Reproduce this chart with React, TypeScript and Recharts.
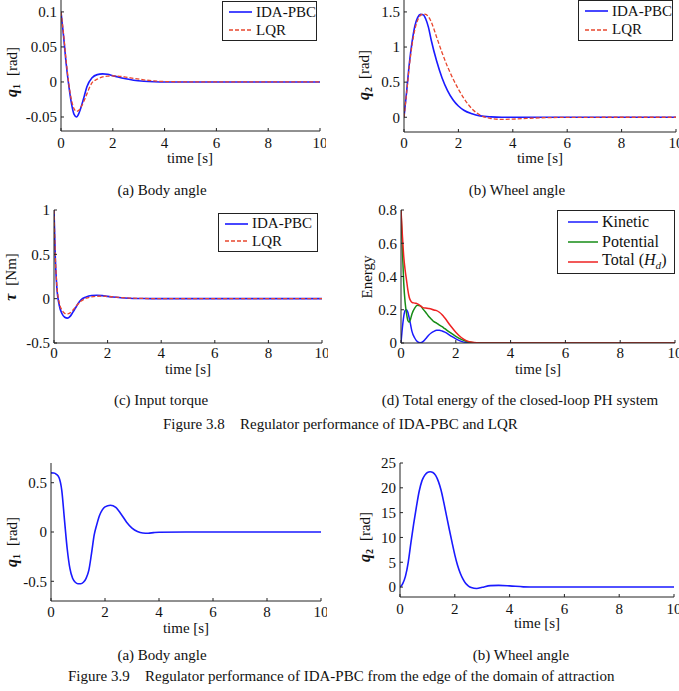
import React from 'react';
import { LineChart, Line, XAxis, YAxis, Legend } from 'recharts';

const FONT = '"Liberation Serif", "Times New Roman", serif';
const AXIS_COLOR = '#222';
const BLUE = '#1a1aff';
const LQR_RED = '#e8472e';
const GREEN = '#168c16';
const RED = '#ee2222';

// ---------- Figure 3.8 data ----------
const tStates = [0, 0.1, 0.2, 0.3, 0.4, 0.5, 0.6, 0.7, 0.8, 0.9, 1.0, 1.2, 1.4, 1.6, 1.8, 2.0, 2.2, 2.5, 2.8, 3.2, 3.6, 4, 5, 6, 8, 10];
const q1Ida = [0.1, 0.065, 0.026, -0.005, -0.03, -0.046, -0.05, -0.044, -0.033, -0.02, -0.007, 0.006, 0.0105, 0.0115, 0.011, 0.009, 0.007, 0.0045, 0.0025, 0.001, 0.0003, 0, 0, 0, 0, 0];
const q1Lqr = [0.1, 0.068, 0.03, -0.002, -0.025, -0.038, -0.042, -0.04, -0.034, -0.026, -0.017, -0.001, 0.004, 0.0072, 0.0083, 0.0086, 0.0083, 0.007, 0.0052, 0.003, 0.0015, 0.0006, 0.0001, 0, 0, 0];
const q2Ida = [0, 0.38, 0.78, 1.08, 1.3, 1.42, 1.465, 1.46, 1.4, 1.28, 1.1, 0.8, 0.56, 0.38, 0.25, 0.16, 0.1, 0.05, 0.02, 0.005, 0, 0, 0, 0, 0, 0];
const q2Lqr = [0, 0.36, 0.74, 1.04, 1.25, 1.38, 1.45, 1.47, 1.465, 1.43, 1.36, 1.14, 0.92, 0.72, 0.55, 0.4, 0.27, 0.12, 0.03, -0.018, -0.03, -0.026, -0.008, -0.002, 0, 0];

const tTorque = [0, 0.05, 0.1, 0.2, 0.3, 0.4, 0.5, 0.6, 0.7, 0.8, 0.9, 1.0, 1.2, 1.4, 1.6, 1.8, 2.0, 2.2, 2.5, 2.8, 3.2, 3.6, 4, 6, 8, 10];
const tauIda = [1.0, 0.45, 0.15, -0.08, -0.17, -0.21, -0.22, -0.2, -0.155, -0.105, -0.055, -0.015, 0.02, 0.035, 0.038, 0.034, 0.026, 0.018, 0.01, 0.005, 0.002, 0.001, 0, 0, 0, 0];
const tauLqr = [1.0, 0.47, 0.18, -0.05, -0.13, -0.165, -0.172, -0.16, -0.13, -0.095, -0.06, -0.03, 0.005, 0.02, 0.027, 0.028, 0.025, 0.02, 0.013, 0.007, 0.003, 0.0012, 0.0004, 0, 0, 0];

const tEnergy = [0, 0.05, 0.1, 0.15, 0.2, 0.25, 0.3, 0.35, 0.4, 0.5, 0.6, 0.7, 0.8, 0.9, 1.0, 1.1, 1.2, 1.3, 1.4, 1.5, 1.6, 1.8, 2.0, 2.2, 2.4, 2.6, 2.8, 3, 4, 6, 8, 10];
const kinetic = [0, 0.09, 0.16, 0.195, 0.2, 0.185, 0.15, 0.11, 0.07, 0.03, 0.008, 0.002, 0.008, 0.025, 0.045, 0.06, 0.07, 0.076, 0.076, 0.072, 0.065, 0.045, 0.025, 0.01, 0.003, 0.001, 0, 0, 0, 0, 0, 0];
const potential = [0.8, 0.56, 0.36, 0.245, 0.18, 0.135, 0.125, 0.145, 0.175, 0.21, 0.227, 0.223, 0.205, 0.185, 0.163, 0.145, 0.128, 0.12, 0.108, 0.098, 0.086, 0.062, 0.04, 0.022, 0.009, 0.003, 0.001, 0, 0, 0, 0, 0];
const totalHd = [0.8, 0.65, 0.52, 0.44, 0.38, 0.32, 0.275, 0.255, 0.245, 0.24, 0.235, 0.225, 0.213, 0.21, 0.208, 0.205, 0.198, 0.195, 0.185, 0.17, 0.15, 0.105, 0.065, 0.033, 0.013, 0.004, 0.001, 0, 0, 0, 0, 0];

// ---------- Figure 3.9 data ----------
const tEdgeBody = [0, 0.1, 0.2, 0.3, 0.4, 0.5, 0.6, 0.7, 0.8, 0.9, 1.0, 1.1, 1.2, 1.3, 1.4, 1.5, 1.6, 1.7, 1.8, 1.9, 2.0, 2.2, 2.4, 2.6, 2.8, 3.0, 3.2, 3.4, 3.6, 3.8, 4, 5, 6, 8, 10];
const q1Edge = [0.6, 0.598, 0.585, 0.55, 0.42, 0.12, -0.17, -0.37, -0.47, -0.51, -0.525, -0.525, -0.51, -0.47, -0.39, -0.22, -0.03, 0.08, 0.17, 0.225, 0.255, 0.272, 0.25, 0.18, 0.1, 0.04, 0.005, -0.01, -0.012, -0.006, -0.002, 0, 0, 0, 0];
const tEdgeWheel = [0, 0.1, 0.2, 0.3, 0.4, 0.5, 0.6, 0.7, 0.8, 0.9, 1.0, 1.1, 1.2, 1.3, 1.4, 1.5, 1.6, 1.7, 1.8, 1.9, 2.0, 2.1, 2.2, 2.3, 2.4, 2.5, 2.6, 2.8, 3.0, 3.3, 3.6, 4.0, 4.5, 5, 6, 8, 10];
const q2Edge = [0, 0.7, 2.2, 5.0, 9.0, 12.8, 16.2, 19.3, 21.4, 22.5, 23.1, 23.25, 23.1, 22.5, 21.3, 19.5, 17.0, 14.3, 11.6, 9.0, 6.5, 4.4, 2.8, 1.6, 0.7, 0.2, -0.1, -0.3, -0.05, 0.3, 0.35, 0.25, 0.05, 0, 0, 0, 0];

// ---------- ticks ----------
const timeTicks = [0, 2, 4, 6, 8, 10];
const q1Ticks = [-0.05, 0, 0.05, 0.1];
const q2Ticks = [0, 0.5, 1, 1.5];
const tauTicks = [-0.5, 0, 0.5, 1];
const energyTicks = [0, 0.2, 0.4, 0.6, 0.8];
const q1EdgeTicks = [-0.5, 0, 0.5];
const q2EdgeTicks = [0, 5, 10, 15, 20, 25];

type Row = Record<string, number>;
const table = (t: number[], cols: Record<string, number[]>): Row[] =>
  t.map((time, i) => {
    const r: Row = { t: time };
    Object.keys(cols).forEach((k) => { r[k] = cols[k][i]; });
    return r;
  });

const dataQ1 = table(tStates, { ida: q1Ida, lqr: q1Lqr });
const dataQ2 = table(tStates, { ida: q2Ida, lqr: q2Lqr });
const dataTau = table(tTorque, { ida: tauIda, lqr: tauLqr });
const dataEnergy = table(tEnergy, { kin: kinetic, pot: potential, tot: totalHd });
const dataEdgeQ1 = table(tEdgeBody, { ida: q1Edge });
const dataEdgeQ2 = table(tEdgeWheel, { ida: q2Edge });

type Series = { key: string; name: string; color: string; dash?: string; width?: number; label?: React.ReactNode };
type Box = { x0: number; y0: number; x1: number; y1: number };
type LegendSpec = { x: number; y: number; w: number; h: number; fontSize: number; inset: number; sample: number };

const compareSeries: Series[] = [
  { key: 'ida', name: 'IDA-PBC', color: BLUE, width: 1.6 },
  { key: 'lqr', name: 'LQR', color: LQR_RED, dash: '4 2', width: 1.3 },
];
const energySeries: Series[] = [
  { key: 'kin', name: 'Kinetic', color: BLUE },
  { key: 'pot', name: 'Potential', color: GREEN },
  {
    key: 'tot', name: 'Total (Hd)', color: RED,
    label: (<span>Total (<i>H</i><sub style={{ fontSize: '0.7em', fontStyle: 'italic' }}>d</sub>)</span>),
  },
];
const edgeSeries: Series[] = [{ key: 'ida', name: 'IDA-PBC', color: BLUE, width: 1.6 }];

const Y_AXIS_W = 50;
const M_TOP = 5;
const M_RIGHT = 6;
const X_AXIS_H = 30;
const TICK = -3;

const tickStyle = { fontFamily: FONT, fontSize: 15, fill: '#111' };

function LegendBox({ spec, series }: { spec: LegendSpec; series: Series[] }) {
  const rowH = (spec.h - 4) / series.length;
  return (
    <div style={{
      width: spec.w, height: spec.h, boxSizing: 'border-box', border: `1px solid ${AXIS_COLOR}`,
      background: '#fff', fontFamily: FONT, fontSize: spec.fontSize, color: '#111', paddingTop: 1,
    }}>
      {series.map((s) => (
        <div key={s.key} style={{ display: 'flex', alignItems: 'center', height: rowH, lineHeight: 1 }}>
          <svg width={spec.inset + spec.sample + 4} height={8} style={{ flex: 'none' }}>
            <line x1={spec.inset} x2={spec.inset + spec.sample} y1={4} y2={4} stroke={s.color}
              strokeWidth={s.width ?? 1.5} strokeDasharray={s.dash} />
          </svg>
          <span style={{ whiteSpace: 'nowrap' }}>{s.label ?? s.name}</span>
        </div>
      ))}
    </div>
  );
}

function Panel(props: {
  box: Box; data: Row[]; series: Series[]; yDomain: [number, number]; yTicks: number[];
  xTickMargin: number; legend?: LegendSpec;
}) {
  const { box, data, series, yDomain, yTicks, xTickMargin, legend } = props;
  const width = box.x1 - box.x0 + Y_AXIS_W + M_RIGHT;
  const height = box.y1 - box.y0 + M_TOP + X_AXIS_H;
  const left = box.x0 - Y_AXIS_W;
  const top = box.y0 - M_TOP;
  return (
    <div style={{ position: 'absolute', left, top, width, height }}>
      <LineChart width={width} height={height} data={data} style={{ fontFamily: FONT }}
        margin={{ top: M_TOP, right: M_RIGHT, bottom: 0, left: 0 }}>
        <XAxis xAxisId="bottom" dataKey="t" type="number" domain={[0, 10]} ticks={timeTicks} interval={0}
          allowDataOverflow height={X_AXIS_H} tickSize={TICK} tickMargin={xTickMargin} tick={tickStyle}
          stroke={AXIS_COLOR} />
        <XAxis xAxisId="top" orientation="top" dataKey="t" type="number" domain={[0, 10]} ticks={timeTicks}
          interval={0} allowDataOverflow height={0} tickSize={TICK} tickFormatter={() => ''} stroke={AXIS_COLOR} />
        <YAxis yAxisId="left" type="number" domain={yDomain} ticks={yTicks} interval={0} allowDataOverflow
          width={Y_AXIS_W} tickSize={TICK} tickMargin={7} tick={tickStyle} stroke={AXIS_COLOR} />
        <YAxis yAxisId="right" orientation="right" type="number" domain={yDomain} ticks={yTicks} interval={0}
          allowDataOverflow width={0} tickSize={TICK} tickFormatter={() => ''} stroke={AXIS_COLOR} />
        {series.map((s) => (
          <Line key={s.key} xAxisId="bottom" yAxisId="left" dataKey={s.key} name={s.name} type="monotone"
            stroke={s.color} strokeWidth={s.width ?? 1.5} strokeDasharray={s.dash} dot={false}
            activeDot={false} isAnimationActive={false} />
        ))}
        {legend && (
          <Legend layout="horizontal" verticalAlign="middle" align="center"
            wrapperStyle={{ left: legend.x - left, top: legend.y - top, width: legend.w }}
            content={() => <LegendBox spec={legend} series={series} />} />
        )}
      </LineChart>
    </div>
  );
}

// Rotated y-axis title: bold italic symbol with subscript, then a unit in brackets
function SymbolTitle({ x, y, sym, sub, unit }: { x: number; y: number; sym: string; sub?: string; unit: string }) {
  return (
    <text transform={`translate(${x},${y}) rotate(-90)`} textAnchor="middle" fontFamily={FONT} fontSize={15} fill="#111">
      <tspan fontWeight="bold" fontStyle="italic" fontSize={16}>{sym}</tspan>
      {sub && <tspan fontWeight="bold" fontSize={10} dy={3}>{sub}</tspan>}
      <tspan dx={8} dy={sub ? -3 : 0}>{unit}</tspan>
    </text>
  );
}

function Caption({ x, y, text, anchor = 'middle' }: { x: number; y: number; text: string; anchor?: 'start' | 'middle' }) {
  return <text x={x} y={y} textAnchor={anchor} fontFamily={FONT} fontSize={15} fill="#111">{text}</text>;
}

export default function App() {
  return (
    <div style={{ position: 'absolute', left: 0, top: 0, width: 679, height: 691, overflow: 'hidden', background: '#fff' }}>
      <Panel box={{ x0: 61, y0: 0, x1: 320, y1: 131 }} data={dataQ1} series={compareSeries}
        yDomain={[-0.07, 0.117]} yTicks={q1Ticks} xTickMargin={9}
        legend={{ x: 222, y: 1, w: 95, h: 40, fontSize: 15, inset: 6, sample: 23 }} />
      <Panel box={{ x0: 404, y0: 0, x1: 676, y1: 132 }} data={dataQ2} series={compareSeries}
        yDomain={[-0.21, 1.67]} yTicks={q2Ticks} xTickMargin={8}
        legend={{ x: 578, y: 0, w: 95, h: 41, fontSize: 15, inset: 6, sample: 23 }} />
      <Panel box={{ x0: 54, y0: 210, x1: 322, y1: 343 }} data={dataTau} series={compareSeries}
        yDomain={[-0.5, 1]} yTicks={tauTicks} xTickMargin={7}
        legend={{ x: 218, y: 213, w: 100, h: 39, fontSize: 15, inset: 6, sample: 23 }} />
      <Panel box={{ x0: 401, y0: 210, x1: 675, y1: 343 }} data={dataEnergy} series={energySeries}
        yDomain={[0, 0.8]} yTicks={energyTicks} xTickMargin={7}
        legend={{ x: 557, y: 210, w: 118, h: 64, fontSize: 16, inset: 10, sample: 30 }} />
      <Panel box={{ x0: 51, y0: 463, x1: 321, y1: 601 }} data={dataEdgeQ1} series={edgeSeries}
        yDomain={[-0.7, 0.7]} yTicks={q1EdgeTicks} xTickMargin={8} />
      <Panel box={{ x0: 400, y0: 463, x1: 674, y1: 597 }} data={dataEdgeQ2} series={edgeSeries}
        yDomain={[-2, 25]} yTicks={q2EdgeTicks} xTickMargin={9} />

      <svg width={679} height={691} style={{ position: 'absolute', left: 0, top: 0, pointerEvents: 'none' }}>
        <SymbolTitle x={17} y={72} sym="q" sub="1" unit="[rad]" />
        <SymbolTitle x={369} y={75} sym="q" sub="2" unit="[rad]" />
        <SymbolTitle x={16} y={277} sym="τ" unit="[Nm]" />
        <text transform="translate(372,277) rotate(-90)" textAnchor="middle" fontFamily={FONT} fontSize={15} fill="#111">Energy</text>
        <SymbolTitle x={17} y={542} sym="q" sub="1" unit="[rad]" />
        <SymbolTitle x={370} y={537} sym="q" sub="2" unit="[rad]" />

        <Caption x={190} y={163} text="time [s]" />
        <Caption x={540} y={163} text="time [s]" />
        <Caption x={188} y={374} text="time [s]" />
        <Caption x={538} y={374} text="time [s]" />
        <Caption x={186} y={633} text="time [s]" />
        <Caption x={537} y={628} text="time [s]" />

        <Caption x={162} y={195} text="(a) Body angle" />
        <Caption x={517} y={195} text="(b) Wheel angle" />
        <Caption x={161} y={405} text="(c) Input torque" />
        <Caption x={520} y={405} text="(d) Total energy of the closed-loop PH system" />
        <Caption x={163} y={429} text="Figure 3.8" anchor="start" />
        <Caption x={240} y={429} text="Regulator performance of IDA-PBC and LQR" anchor="start" />

        <Caption x={162} y={660} text="(a) Body angle" />
        <Caption x={521} y={660} text="(b) Wheel angle" />
        <Caption x={68} y={681} text="Figure 3.9" anchor="start" />
        <Caption x={145} y={681} text="Regulator performance of IDA-PBC from the edge of the domain of attraction" anchor="start" />
      </svg>
    </div>
  );
}
